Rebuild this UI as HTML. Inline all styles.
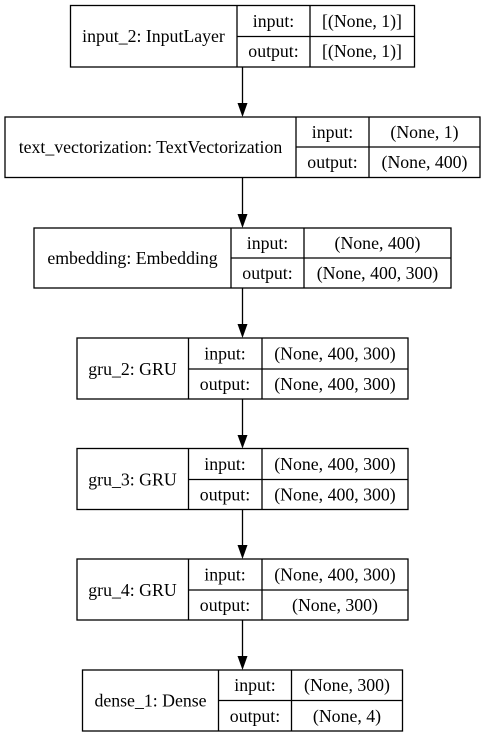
<!DOCTYPE html>
<html><head><meta charset="utf-8"><style>
html,body{margin:0;padding:0;background:#fff;}
svg{display:block;}
svg text{font-family:'Liberation Serif','Times New Roman',Times,'DejaVu Serif',serif !important;}
</style></head><body>
<svg width="485" height="737" viewBox="0 0 485 737" xmlns="http://www.w3.org/2000/svg">
<g fill="none" stroke="#000" stroke-width="1.3">
<rect x="70.5" y="5.5" width="344" height="61.5"/>
<line x1="237" y1="5.5" x2="237" y2="67"/><line x1="310" y1="5.5" x2="310" y2="67"/><line x1="237" y1="36.5" x2="414.5" y2="36.5"/>
<rect x="5" y="117" width="475" height="60.5"/>
<line x1="296" y1="117" x2="296" y2="177.5"/><line x1="369" y1="117" x2="369" y2="177.5"/><line x1="296" y1="147" x2="480" y2="147"/>
<rect x="34" y="228" width="417" height="60"/>
<line x1="231" y1="228" x2="231" y2="288"/><line x1="304" y1="228" x2="304" y2="288"/><line x1="231" y1="258" x2="451" y2="258"/>
<rect x="77" y="338" width="331" height="61"/>
<line x1="188.5" y1="338" x2="188.5" y2="399"/><line x1="262" y1="338" x2="262" y2="399"/><line x1="188.5" y1="369" x2="408" y2="369"/>
<rect x="77" y="448.5" width="331" height="61"/>
<line x1="188.5" y1="448.5" x2="188.5" y2="509.5"/><line x1="262" y1="448.5" x2="262" y2="509.5"/><line x1="188.5" y1="479.5" x2="408" y2="479.5"/>
<rect x="77" y="559" width="331" height="61"/>
<line x1="188.5" y1="559" x2="188.5" y2="620"/><line x1="262" y1="559" x2="262" y2="620"/><line x1="188.5" y1="590" x2="408" y2="590"/>
<rect x="82.5" y="670" width="320" height="61"/>
<line x1="218.5" y1="670" x2="218.5" y2="731"/><line x1="291.5" y1="670" x2="291.5" y2="731"/><line x1="218.5" y1="700.5" x2="402.5" y2="700.5"/>
<line x1="242.5" y1="67" x2="242.5" y2="104"/>
<line x1="242.5" y1="177.5" x2="242.5" y2="215"/>
<line x1="242.5" y1="288" x2="242.5" y2="325"/>
<line x1="242.5" y1="399" x2="242.5" y2="436"/>
<line x1="242.5" y1="509.5" x2="242.5" y2="546"/>
<line x1="242.5" y1="620" x2="242.5" y2="657"/>
</g>
<g fill="#000">
<polygon points="237.5,103 247.5,103 242.5,117"/>
<polygon points="237.5,214 247.5,214 242.5,228"/>
<polygon points="237.5,324 247.5,324 242.5,338"/>
<polygon points="237.5,435 247.5,435 242.5,448.5"/>
<polygon points="237.5,545 247.5,545 242.5,559"/>
<polygon points="237.5,656 247.5,656 242.5,670"/>
</g>
<g style="font-family:'Liberation Serif','Times New Roman',serif;font-size:17.8px" fill="#000" text-anchor="middle">
<text x="153.5" y="42">input_2: InputLayer</text>
<text x="273.5" y="27">input:</text><text x="273.5" y="57">output:</text>
<text x="362" y="27">[(None, 1)]</text><text x="362" y="57">[(None, 1)]</text>

<text x="150.5" y="153">text_vectorization: TextVectorization</text>
<text x="332.5" y="138">input:</text><text x="332.5" y="168">output:</text>
<text x="424.5" y="138">(None, 1)</text><text x="424.5" y="168">(None, 400)</text>

<text x="132.5" y="264">embedding: Embedding</text>
<text x="267.5" y="249">input:</text><text x="267.5" y="279">output:</text>
<text x="377.5" y="249">(None, 400)</text><text x="377.5" y="279">(None, 400, 300)</text>

<text x="132.5" y="375">gru_2: GRU</text>
<text x="225" y="359.5">input:</text><text x="225" y="390">output:</text>
<text x="335" y="359.5">(None, 400, 300)</text><text x="335" y="390">(None, 400, 300)</text>

<text x="132.5" y="485.5">gru_3: GRU</text>
<text x="225" y="470">input:</text><text x="225" y="500.5">output:</text>
<text x="335" y="470">(None, 400, 300)</text><text x="335" y="500.5">(None, 400, 300)</text>

<text x="132.5" y="596">gru_4: GRU</text>
<text x="225" y="580.5">input:</text><text x="225" y="611">output:</text>
<text x="335" y="580.5">(None, 400, 300)</text><text x="335" y="611">(None, 300)</text>

<text x="150.5" y="706.5">dense_1: Dense</text>
<text x="255" y="691">input:</text><text x="255" y="722">output:</text>
<text x="347" y="691">(None, 300)</text><text x="347" y="722">(None, 4)</text>
</g>
</svg>
</body></html>
